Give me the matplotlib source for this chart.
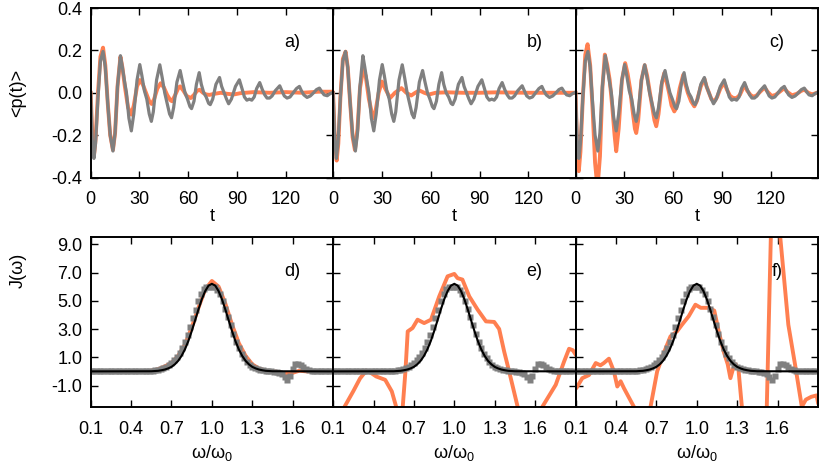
import matplotlib
matplotlib.use("Agg")
import matplotlib.pyplot as plt
from matplotlib.ticker import FormatStrFormatter

plt.rcParams["font.family"] = ["Liberation Sans", "DejaVu Sans"]
plt.rcParams["font.size"] = 13
plt.rcParams["axes.unicode_minus"] = False
plt.rcParams["mathtext.fontset"] = "custom"
plt.rcParams["mathtext.rm"] = "Liberation Sans"
plt.rcParams["mathtext.default"] = "regular"

ORANGE = "#ff7f50"
GREY = "#808080"

# ---- time domain <p(t)>: reference (grey, same in a, b, c) ----
t_ref = [0, 1, 2.0, 3, 4.5, 6, 7.6, 9, 10.5, 12, 13.7, 15, 16.5, 18.3, 19.5, 20.9, 22, 23.5,
         25, 26.5, 28.5, 30.2, 31.5, 33, 34.5, 36, 37.3, 38.5, 40.5, 42.5, 44, 45.5, 47, 48.5,
         49.7, 51, 53, 55, 56.5, 58, 59.5, 61, 62, 63.5, 65, 66.7, 68, 69.5, 71, 72.5, 73.5,
         75, 77, 79.2, 80.5, 82, 83.5, 84.8, 86.5, 89, 91.4, 93, 94.5, 96, 97.5, 99, 100.5,
         102, 103.9, 105.5, 107, 108.4, 110, 111.5, 113.5, 116.2, 117.5, 119, 120.7, 122.5,
         124.5, 126.5, 128.3, 129.5, 131, 133, 135, 137, 138.8, 140.6, 142, 143.5, 145.4,
         147, 149]
p_ref = [0.0, -0.22, -0.31, -0.24, -0.02, 0.15, 0.195, 0.12, -0.05, -0.2, -0.275, -0.19,
         0.03, 0.175, 0.12, 0.05, 0.0, -0.12, -0.18, -0.1, 0.06, 0.133, 0.08, 0.01, -0.03,
         -0.1, -0.135, -0.09, 0.06, 0.132, 0.07, 0.0, -0.05, -0.1, -0.118, -0.07, 0.05, 0.105,
         0.05, 0.0, -0.03, -0.065, -0.075, -0.04, 0.04, 0.095, 0.04, 0.0, -0.02, -0.05,
         -0.056, -0.03, 0.04, 0.072, 0.03, 0.0, -0.03, -0.052, -0.03, 0.03, 0.061, 0.02,
         -0.02, -0.035, -0.03, -0.035, -0.02, 0.02, 0.048, 0.015, -0.01, -0.025, -0.025,
         -0.015, 0.01, 0.033, 0.01, -0.015, -0.025, -0.02, 0.0, 0.02, 0.03, 0.01, -0.01,
         -0.022, -0.015, 0.0, 0.015, 0.022, 0.005, -0.01, -0.014, -0.005, 0.003]

# ---- approximations (orange) ----
t_a = [0, 1, 2, 3, 4.5, 6, 7.6, 9, 10.5, 12, 13.7, 15, 16.5, 18.3, 19.5, 21, 23, 25, 26.5,
       28.5, 30.2, 32, 34, 36, 37.5, 39, 41, 43, 45, 47, 49, 50, 52, 54, 55, 57, 59, 61.5,
       63.5, 65.5, 67, 69, 71, 73, 76, 80, 84, 88, 92, 100, 110, 120, 130, 140, 149]
p_a = [0.0, -0.2, -0.3, -0.22, 0.0, 0.17, 0.213, 0.13, -0.05, -0.2, -0.27, -0.19, 0.03,
       0.17, 0.12, 0.03, -0.07, -0.103, -0.06, 0.03, 0.06, 0.04, 0.0, -0.04, -0.053, -0.03,
       0.02, 0.045, 0.025, -0.01, -0.035, -0.04, -0.01, 0.025, 0.03, 0.01, -0.015, -0.025,
       -0.01, 0.01, 0.014, 0.0, -0.008, -0.01, -0.005, 0.0, -0.005, -0.008, -0.002, 0.003,
       0.0, 0.003, 0.0, 0.005, 0.005]

t_b = [0, 1, 2.2, 3.2, 4.5, 6, 7.7, 9, 10.5, 12, 13.4, 15, 16.5, 18.4, 20, 22, 24.5, 26, 28,
       30, 32, 35, 38, 42, 45, 48, 50.5, 53, 56, 59, 63, 70, 80, 90, 100, 120, 149]
p_b = [0.0, -0.22, -0.32, -0.24, -0.02, 0.16, 0.194, 0.12, -0.05, -0.21, -0.27, -0.17, 0.02,
       0.108, 0.08, -0.03, -0.12, -0.09, 0.0, 0.053, 0.02, -0.025, 0.0, 0.022, 0.0, -0.013,
       0.0, 0.011, 0.0, -0.008, 0.0, 0.002, 0.0, 0.0, 0.002, 0.0, 0.0]

t_c = [0, 1, 2, 3, 4.5, 6, 7.4, 9, 10.5, 12, 13.5, 15, 16.5, 18, 19.5, 21, 22.5, 24, 25, 26.5,
       28.5, 30.5, 32, 33.5, 35, 36.5, 37.3, 38.5, 40.5, 42.5, 44, 45.5, 47, 48.5, 49.6, 51,
       53, 54.5, 56, 57.5, 59, 60.7, 62, 64, 66.2, 67.5, 69, 71, 73, 74.5, 77, 79.2, 80.5,
       82, 83.5, 85.3, 87, 89, 91.4, 93, 95, 97, 99, 101, 103.9, 105.5, 107.5, 109, 111,
       113.5, 116.2, 118, 120.5, 123, 125.5, 128.3, 130, 133, 136, 138.5, 140.6, 143, 145.5,
       149]
p_c = [0.0, -0.26, -0.37, -0.28, -0.02, 0.18, 0.229, 0.13, -0.08, -0.33, -0.45, -0.3, 0.02,
       0.18, 0.13, 0.06, -0.06, -0.2, -0.276, -0.17, 0.06, 0.14, 0.09, 0.02, -0.08, -0.17,
       -0.19, -0.13, 0.06, 0.13, 0.08, 0.01, -0.06, -0.13, -0.158, -0.1, 0.04, 0.093, 0.05,
       0.0, -0.06, -0.088, -0.07, 0.02, 0.085, 0.04, 0.0, -0.04, -0.064, -0.04, 0.03, 0.066,
       0.03, 0.0, -0.03, -0.041, -0.02, 0.02, 0.048, 0.015, -0.015, -0.025, -0.025, -0.01,
       0.038, 0.01, -0.01, -0.018, -0.015, 0.005, 0.025, 0.005, -0.015, -0.01, 0.005, 0.022,
       0.005, -0.012, -0.005, 0.008, 0.015, 0.0, -0.008, 0.002]

# ---- spectral density J(w) ----
w_fit = [0.1, 0.55, 0.6, 0.625, 0.65, 0.675, 0.7, 0.725, 0.75, 0.775, 0.8, 0.825, 0.85, 0.875,
         0.9, 0.925, 0.95, 0.975, 1.0, 1.025, 1.05, 1.075, 1.1, 1.125, 1.15, 1.175, 1.2,
         1.225, 1.25, 1.275, 1.3, 1.325, 1.35, 1.375, 1.4, 1.45, 1.9]
J_fit = [0.0, 0.01, 0.04, 0.08, 0.13, 0.21, 0.32, 0.5, 0.75, 1.1, 1.56, 2.14, 2.84, 3.6, 4.38,
         5.1, 5.68, 6.07, 6.2, 6.07, 5.68, 5.1, 4.38, 3.6, 2.84, 2.14, 1.56, 1.1, 0.75, 0.5,
         0.32, 0.21, 0.13, 0.08, 0.04, 0.01, 0.0]

w_data = [0.10, 0.12, 0.14, 0.16, 0.18, 0.20, 0.22, 0.24, 0.26, 0.28, 0.30, 0.32, 0.34, 0.36,
          0.38, 0.40, 0.42, 0.44, 0.46, 0.48, 0.50, 0.52, 0.54, 0.56, 0.58, 0.60, 0.62, 0.64,
          0.66, 0.68, 0.70, 0.72, 0.74, 0.76, 0.78, 0.80, 0.82, 0.84, 0.86, 0.88, 0.90, 0.92,
          0.94, 0.96, 0.98, 1.00, 1.02, 1.04, 1.06, 1.08, 1.10, 1.12, 1.14, 1.16, 1.18, 1.20,
          1.22, 1.24, 1.26, 1.28, 1.30, 1.32, 1.34, 1.36, 1.38, 1.40, 1.42, 1.44, 1.46, 1.48,
          1.50, 1.52, 1.54, 1.56, 1.58, 1.60, 1.62, 1.64, 1.66, 1.68, 1.70, 1.72, 1.74, 1.76,
          1.78, 1.80, 1.82, 1.84, 1.86, 1.88]
J_data = [0.0, 0.0, 0.0, 0.0, 0.0, 0.0, 0.0, 0.0, 0.0, 0.0, 0.0, 0.0, 0.0, 0.0, 0.0, 0.0, 0.0,
          0.0, 0.0, 0.0, 0.0, 0.02, 0.04, 0.06, 0.08, 0.1, 0.15, 0.22, 0.3, 0.42, 0.58, 0.78,
          1.02, 1.32, 1.68, 2.1, 2.55, 3.14, 3.76, 4.38, 4.96, 5.47, 5.86, 5.95, 6.0, 6.0,
          5.95, 5.75, 5.45, 5.0, 4.45, 3.85, 3.25, 2.65, 2.1, 1.65, 1.25, 0.92, 0.66, 0.46,
          0.32, 0.22, 0.15, 0.1, 0.07, 0.05, 0.03, 0.0, -0.03, -0.05, -0.1, -0.2, -0.4, -0.6,
          -0.3, 0.2, 0.5, 0.55, 0.45, 0.3, 0.15, 0.08, 0.04, 0.02, 0.0, 0.0, 0.0, 0.0, 0.0,
          0.0]

w_d = [0.1, 0.5, 0.55, 0.6, 0.65, 0.7, 0.75, 0.8, 0.85, 0.9, 0.95, 1.0, 1.05, 1.1, 1.15, 1.2,
       1.25, 1.3, 1.35, 1.4, 1.45, 1.5, 1.55, 1.6, 1.65, 1.7, 1.9]
J_d = [0.0, 0.0, 0.05, 0.15, 0.35, 0.6, 1.1, 1.9, 3.1, 4.5, 5.8, 6.4, 6.0, 4.8, 3.3, 2.0, 1.1,
       0.5, 0.2, 0.05, 0.0, -0.05, -0.15, -0.1, 0.05, 0.0, 0.0]

w_e = [0.1, 0.185, 0.25, 0.3, 0.346, 0.38, 0.42, 0.487, 0.536, 0.568, 0.6, 0.617, 0.637,
       0.654, 0.69, 0.727, 0.776, 0.827, 0.888, 0.95, 1.0, 1.024, 1.06, 1.111, 1.173, 1.235,
       1.296, 1.333, 1.37, 1.407, 1.47, 1.55, 1.654, 1.753, 1.815, 1.852, 1.88, 1.9]
J_e = [-5.0, -2.5, -1.4, -0.5, 0.05, -0.1, -0.36, -0.6, -1.42, -2.5, -5.0, -2.5, 0.0, 2.83,
       3.07, 3.66, 3.42, 3.66, 5.31, 6.73, 6.9, 6.6, 6.5, 5.31, 4.37, 3.54, 3.5, 3.0, 1.41,
       0.0, -2.5, -5.0, -2.5, -0.95, 0.7, 1.6, 1.5, 1.2]

w_f = [0.1, 0.105, 0.15, 0.2, 0.25, 0.285, 0.31, 0.348, 0.385, 0.41, 0.435, 0.46, 0.533, 0.6,
       0.657, 0.706, 0.755, 0.805, 0.853, 0.89, 0.94, 0.99, 1.03, 1.09, 1.13, 1.163, 1.2,
       1.23, 1.25, 1.27, 1.29, 1.31, 1.335, 1.42, 1.52, 1.55, 1.585, 1.62, 1.68, 1.73, 1.78,
       1.81, 1.85, 1.89, 1.9]
J_f = [-1.0, -1.2, -0.48, -0.26, 0.59, 0.43, 0.59, 0.9, 0.0, -1.07, -0.7, -1.2, -2.5, -5.0,
       -2.5, 0.0, 1.3, 2.48, 2.83, 3.3, 3.9, 4.72, 4.5, 4.5, 4.3, 2.83, 1.4, 0.5, -0.48, 0.2,
       0.5, 0.1, -2.5, -6.0, -2.5, 9.5, 13.0, 9.5, 3.3, 0.47, -2.5, -2.0, -1.8, -1.7, -2.2]

panel_t = [(t_a, p_a, "a)"), (t_b, p_b, "b)"), (t_c, p_c, "c)")]
panel_w = [(w_d, J_d, "d)"), (w_e, J_e, "e)"), (w_f, J_f, "f)")]

fig, axs = plt.subplots(2, 3, figsize=(8.22, 4.63), dpi=100)
fig.subplots_adjust(left=0.1103, right=0.9951, top=0.9827, bottom=0.1216,
                    wspace=0, hspace=0.352)

for i, (tt, pp, lab) in enumerate(panel_t):
    ax = axs[0, i]
    ax.plot(tt, pp, color=ORANGE, lw=2.8, solid_joinstyle="round")
    ax.plot(t_ref, p_ref, color=GREY, lw=2.3, solid_joinstyle="round")
    ax.set_xlim(0, 149)
    ax.set_ylim(-0.4, 0.4)
    ax.set_xticks([0, 30, 60, 90, 120])
    ax.set_yticks([-0.4, -0.2, 0.0, 0.2, 0.4])
    ax.yaxis.set_major_formatter(FormatStrFormatter("%.1f"))
    ax.set_xlabel("t", labelpad=0)
    ax.text(0.83, 0.795, lab, transform=ax.transAxes, ha="center", va="center")

for i, (ww, jj, lab) in enumerate(panel_w):
    ax = axs[1, i]
    ax.plot(ww, jj, color=ORANGE, lw=2.8, solid_joinstyle="round")
    ax.plot(w_data, J_data, ls="none", marker="s", ms=3.8, color=GREY, mec="none")
    ax.plot(w_fit, J_fit, color="black", lw=1.5)
    ax.set_xlim(0.1, 1.9)
    ax.set_ylim(-2.5, 9.5)
    ax.set_xticks([0.1, 0.4, 0.7, 1.0, 1.3, 1.6])
    ax.set_yticks([-1, 1, 3, 5, 7, 9])
    ax.xaxis.set_major_formatter(FormatStrFormatter("%.1f"))
    ax.yaxis.set_major_formatter(FormatStrFormatter("%.1f"))
    ax.set_xlabel("ω/ω$_0$", labelpad=4)
    ax.text(0.83, 0.797, lab, transform=ax.transAxes, ha="center", va="center")

for ax in axs.flat:
    ax.tick_params(direction="in", top=True, right=True, length=5, width=1.0)
    ax.tick_params(axis="x", pad=10)
    ax.tick_params(axis="y", pad=6)
    for s in ax.spines.values():
        s.set_linewidth(1.4)
for ax in list(axs[0, 1:]) + list(axs[1, 1:]):
    ax.tick_params(labelleft=False)

fig.text(0.022, 0.80, "<p(t)>", rotation=90, ha="center", va="center")
fig.text(0.022, 0.415, "J(ω)", rotation=90, ha="center", va="center")

fig.savefig("out.png", dpi=100)
